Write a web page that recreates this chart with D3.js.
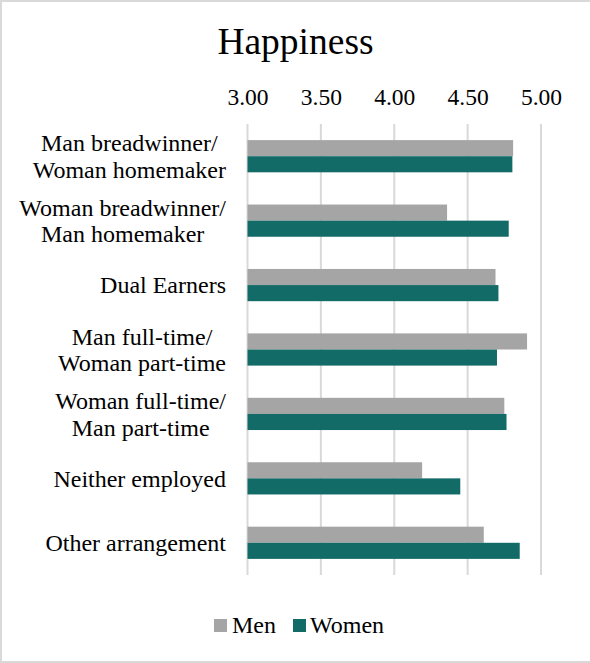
<!DOCTYPE html>
<html>
<head>
<meta charset="utf-8">
<script src="https://cdn.jsdelivr.net/npm/d3@7"></script>
<style>
  html, body { margin: 0; padding: 0; background: #fff; }
  svg { display: block; }
  text { font-family: "Liberation Serif", "Times New Roman", serif; fill: #000; }
</style>
</head>
<body>
<svg id="chart" width="590" height="663"></svg>
<script>
const categories = [
  ["Man breadwinner/", "Woman homemaker"],
  ["Woman breadwinner/", "Man homemaker"],
  ["Dual Earners"],
  ["Man full-time/", "Woman part-time"],
  ["Woman full-time/", "Man part-time"],
  ["Neither employed"],
  ["Other arrangement"]
];
const seriesNames = ["Men", "Women"];
const menValues   = [4.81, 4.36, 4.69, 4.905, 4.75, 4.19, 4.61];
const womenValues = [4.805, 4.78, 4.71, 4.70, 4.765, 4.45, 4.855];
const tickValues = [3.00, 3.50, 4.00, 4.50, 5.00];
const colors = ["#A5A5A5", "#136B67"];

const svg = d3.select("#chart");
const W = 590, H = 663;

// outer border
svg.append("rect").attr("x", 1).attr("y", 1).attr("width", W + 10).attr("height", H - 2)
  .attr("fill", "#fff").attr("stroke", "#D9D9D9").attr("stroke-width", 2);

const plot = { left: 247.5, right: 541, top: 124, bottom: 575 };

const x = d3.scaleLinear().domain([3, 5]).range([plot.left, plot.right]);
const y0 = d3.scaleBand().domain(d3.range(categories.length)).range([plot.top, plot.bottom]).paddingInner(0.5).paddingOuter(0.25);
const y1 = d3.scaleBand().domain([0, 1]).range([0, y0.bandwidth()]);

// title
svg.append("text").attr("x", 295.5).attr("y", 54).attr("text-anchor", "middle")
  .style("font-size", "37.5px").text("Happiness");

// gridlines
const grid = svg.append("g");
grid.selectAll("line").data(tickValues).join("line")
  .attr("x1", d => x(d)).attr("x2", d => x(d))
  .attr("y1", plot.top).attr("y2", plot.bottom)
  .attr("stroke", "#D9D9D9").attr("stroke-width", 2);

// top axis labels
const axis = d3.axisTop(x).tickValues(tickValues).tickFormat(d3.format(".2f")).tickSize(0).tickPadding(0);
const ag = svg.append("g").attr("transform", `translate(0,105)`).call(axis);
ag.select(".domain").remove();
ag.attr("font-family", null).attr("font-size", null);
ag.selectAll("text").style("font-size", "23.5px").attr("y", 0).attr("dy", 0)
  .style("font-family", "'Liberation Serif', 'Times New Roman', serif").attr("fill", "#000");

// bars
const data = categories.map((c, i) => ({ i, vals: [menValues[i], womenValues[i]] }));
const groups = svg.append("g").selectAll("g").data(data).join("g")
  .attr("transform", d => `translate(0,${y0(d.i)})`);
groups.selectAll("rect").data(d => d.vals.map((v, k) => ({ v, k }))).join("rect")
  .attr("x", x(3))
  .attr("y", d => y1(d.k))
  .attr("width", d => x(d.v) - x(3))
  .attr("height", y1.bandwidth())
  .attr("fill", d => colors[d.k]);

// category labels
const labelRight = 226;
const lineH = 26.5;
categories.forEach((lines, i) => {
  const cy = y0(i) + y0.bandwidth() / 2;
  const t = svg.append("text").style("font-size", "24px").attr("text-anchor", "middle");
  const spans = lines.map((ln, j) => t.append("tspan")
    .attr("y", cy + (j - (lines.length - 1) / 2) * lineH)
    .attr("dy", "0.35em").text(ln));
  let maxW = 0;
  spans.forEach(s => { maxW = Math.max(maxW, s.node().getComputedTextLength()); });
  spans.forEach(s => s.attr("x", labelRight - maxW / 2));
});

// legend
const legend = svg.append("g");
const legendItems = [
  { name: seriesNames[0], color: colors[0], sx: 214, tx: 232 },
  { name: seriesNames[1], color: colors[1], sx: 293, tx: 310 }
];
legendItems.forEach(it => {
  legend.append("rect").attr("x", it.sx).attr("y", 619).attr("width", 13).attr("height", 13).attr("fill", it.color);
  legend.append("text").attr("x", it.tx).attr("y", 633).style("font-size", "24px").text(it.name);
});
</script>
</body>
</html>
